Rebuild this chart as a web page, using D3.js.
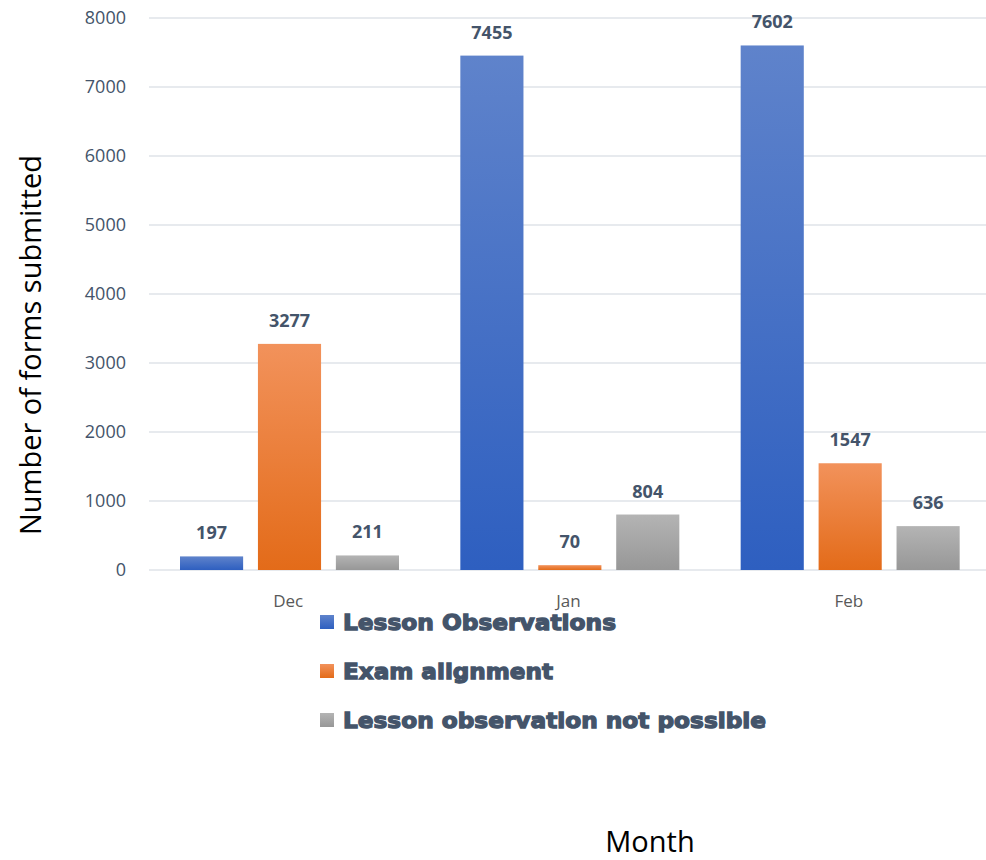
<!DOCTYPE html>
<html><head><meta charset="utf-8">
<script src="https://cdn.jsdelivr.net/npm/d3@7"></script>
<style>body{margin:0;background:#fff;}</style>
</head><body>
<svg id="c" width="986" height="860"></svg>
<script>
const categories = ["Dec", "Jan", "Feb"];
const seriesNames = ["Lesson Observations", "Exam alignment", "Lesson observation not possible"];
const lessonObs = [197, 7455, 7602];
const examAlign = [3277, 70, 1547];
const notPossible = [211, 804, 636];
const yTicks = [0, 1000, 2000, 3000, 4000, 5000, 6000, 7000, 8000];
const seriesValues = [lessonObs, examAlign, notPossible];
const grads = [["#5f83cb", "#2e5fc0"], ["#f2925b", "#e36b19"], ["#b4b4b4", "#979797"]];
const legendWidths = [273, 210, 423];

(function () {
const svg = d3.select("#c");
const mLeft = 149, mRight = 990, mTop = 18, mBottom = 570;
const x0 = d3.scaleBand().domain(categories).range([mLeft, mRight]).paddingInner(0).paddingOuter(0);
const x1 = d3.scaleBand().domain(d3.range(3)).range([31, 250]).paddingInner(0.19);
const y = d3.scaleLinear().domain([0, 8000]).range([mBottom, mTop]);

const defs = svg.append("defs");
grads.forEach((g, i) => {
  const lg = defs.append("linearGradient").attr("id", "g" + i).attr("x1", 0).attr("x2", 0).attr("y1", 0).attr("y2", 1);
  lg.append("stop").attr("offset", "0%").attr("stop-color", g[0]);
  lg.append("stop").attr("offset", "100%").attr("stop-color", g[1]);
});

// gridlines
svg.append("g").selectAll("line").data(yTicks).join("line")
  .attr("x1", mLeft).attr("x2", 986).attr("y1", d => y(d)).attr("y2", d => y(d))
  .attr("stroke", "#dfe3e8").attr("stroke-width", 1.5);

// y tick labels
svg.append("g").selectAll("text").data(yTicks).join("text")
  .attr("x", 126).attr("y", d => y(d)).attr("dy", "0.35em").attr("text-anchor", "end")
  .attr("font-family", "Open Sans, sans-serif").attr("font-size", 18).attr("fill", "#44546a")
  .text(d => d);

// bars
const groups = svg.append("g").selectAll("g").data(categories).join("g")
  .attr("transform", d => `translate(${x0(d)},0)`);
groups.each(function(cat, ci) {
  const g = d3.select(this);
  seriesValues.forEach((vals, si) => {
    const v = vals[ci];
    g.append("rect").attr("x", x1(si)).attr("width", x1.bandwidth())
      .attr("y", y(v)).attr("height", mBottom - y(v)).attr("fill", `url(#g${si})`);
    g.append("text").attr("x", x1(si) + x1.bandwidth() / 2).attr("y", y(v) - 17)
      .attr("text-anchor", "middle").attr("font-family", "Open Sans, sans-serif")
      .attr("font-weight", "bold").attr("font-size", 18).attr("fill", "#44546a").text(v);
  });
});

// category labels
svg.append("g").selectAll("text").data(categories).join("text")
  .attr("x", d => x0(d) + x0.bandwidth() / 2 - 1).attr("y", 607).attr("text-anchor", "middle")
  .attr("font-family", "Open Sans, sans-serif").attr("font-size", 17).attr("fill", "#595959").text(d => d);

// legend
const lg = svg.append("g").selectAll("g").data(seriesNames).join("g")
  .attr("transform", (d, i) => `translate(320,${622 + i * 49})`);
lg.append("rect").attr("x", 0).attr("y", -7).attr("width", 14).attr("height", 14).attr("fill", (d, i) => `url(#g${i})`);
lg.append("text").attr("x", 23).attr("y", 0).attr("dy", "0.36em")
  .attr("font-family", "DejaVu Sans, sans-serif").attr("font-weight", "bold").attr("font-size", 22)
  .attr("textLength", (d, i) => legendWidths[i]).attr("lengthAdjust", "spacingAndGlyphs")
  .attr("fill", "#44546a").attr("stroke", "#44546a").attr("stroke-width", 1.3).text(d => d);

// axis titles
svg.append("text").attr("transform", "translate(41,345) rotate(-90)").attr("text-anchor", "middle")
  .attr("font-family", "Open Sans, sans-serif").attr("font-size", 29).attr("fill", "#000")
  .text("Number of forms submitted");
svg.append("text").attr("x", 650).attr("y", 852).attr("text-anchor", "middle")
  .attr("font-family", "Open Sans, sans-serif").attr("font-size", 29).attr("fill", "#000").text("Month");
})();
</script>
</body></html>
